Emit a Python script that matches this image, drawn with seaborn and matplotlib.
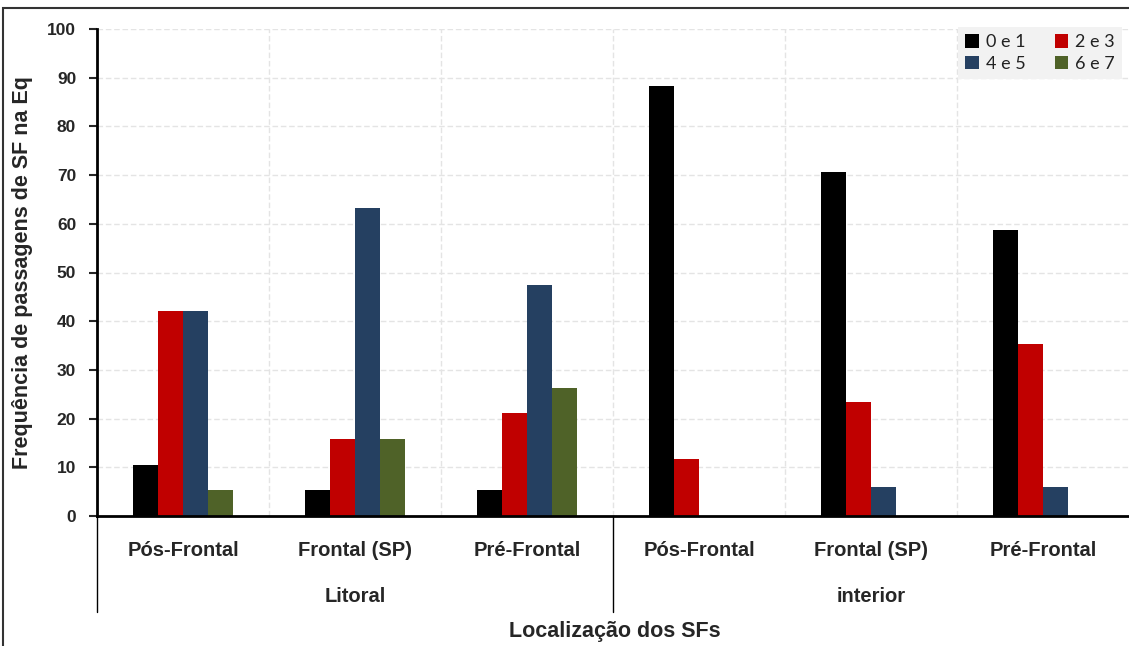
import matplotlib
matplotlib.use("Agg")
import matplotlib.pyplot as plt
import seaborn as sns
import pandas as pd
from matplotlib.patches import Rectangle

# ---- data ----
groups = ["Litoral", "interior"]
positions = ["Pós-Frontal", "Frontal (SP)", "Pré-Frontal"]
series = ["0 e 1", "2 e 3", "4 e 5", "6 e 7"]
litoral_vals = {
    "0 e 1": [10.5, 5.3, 5.3],
    "2 e 3": [42.1, 15.8, 21.1],
    "4 e 5": [42.1, 63.2, 47.4],
    "6 e 7": [5.3, 15.8, 26.3],
}
interior_vals = {
    "0 e 1": [88.2, 70.6, 58.8],
    "2 e 3": [11.8, 23.5, 35.3],
    "4 e 5": [0.0, 5.9, 5.9],
    "6 e 7": [0.0, 0.0, 0.0],
}
colors = ["#000000", "#C00000", "#254061", "#4F6228"]

rows = []
for g, vals in zip(groups, [litoral_vals, interior_vals]):
    for i, p in enumerate(positions):
        for s in series:
            rows.append({"cat": f"{g}|{p}", "pos": p, "grupo": g, "serie": s, "valor": vals[s][i]})
df = pd.DataFrame(rows)
order = [f"{g}|{p}" for g in groups for p in positions]

sns.set_style("white")
plt.rcParams["font.family"] = ["Liberation Sans", "DejaVu Sans"]

fig = plt.figure(figsize=(11.29, 6.46), dpi=100)
ax = fig.add_axes([97/1129, 1-516/646, 1-97/1129, (516-29)/646])

sns.barplot(data=df, x="cat", y="valor", hue="serie", order=order, hue_order=series,
            palette=colors, width=0.58, ax=ax, saturation=1, linewidth=0, errorbar=None)

ax.set_ylim(0, 100)
ax.set_xlim(-0.5, 5.5)
ax.set_yticks(range(0, 101, 10))
ax.set_yticklabels([str(v) for v in range(0, 101, 10)], fontsize=12.5, fontweight="bold")
ax.tick_params(axis="y", direction="out", length=6, width=1.5, pad=9, left=True)

ax.set_xticks(range(6))
ax.set_xticklabels([p for g in groups for p in positions], fontsize=14.5, fontweight="bold")
ax.tick_params(axis="x", length=0, pad=18)
ax.set_xticks([k + 0.5 for k in range(5)], minor=True)
ax.tick_params(axis="x", which="minor", length=0)

ax.grid(axis="y", which="major", color="#e4e4e4", linestyle=(0, (4, 2)), linewidth=1)
ax.grid(axis="x", which="minor", color="#e4e4e4", linestyle=(0, (4, 2)), linewidth=1)
ax.grid(axis="x", which="major", visible=False)
ax.set_axisbelow(True)

for side in ["top", "right"]:
    ax.spines[side].set_visible(False)
ax.spines["left"].set_linewidth(2)
ax.spines["bottom"].set_linewidth(2)
ax.spines["left"].set_color("black")
ax.spines["bottom"].set_color("black")

# group separators and labels
for xb in [-0.5, 2.5]:
    ax.axvline(xb, ymin=-0.197, ymax=0, color="black", linewidth=1, clip_on=False)
trans = ax.get_xaxis_transform()
for gi, g in enumerate(groups):
    ax.text(gi*3 + 1, -(597-516)/487, g, transform=trans, ha="center", va="center",
            fontsize=14.5, fontweight="bold")

ax.set_xlabel("")
fig.text(615/1129, 1-631/646, "Localização dos SFs", ha="center", va="center",
         fontsize=15.5, fontweight="bold")
ax.set_ylabel("Frequência de passagens de SF na Eq", fontsize=15.5, fontweight="bold", labelpad=10)

# legend (row-wise order like the reference)
handles, labels = ax.get_legend_handles_labels()
if ax.legend_:
    ax.legend_.remove()
idx = [0, 2, 1, 3]
leg = fig.legend([handles[i] for i in idx], [labels[i] for i in idx], loc="upper left",
                 bbox_to_anchor=(958/1129, 1-27/646),
                 ncol=2, frameon=True, facecolor="#f2f2f2", edgecolor="none", framealpha=1,
                 fancybox=False, prop={"family": ["Lato", "DejaVu Sans"], "size": 13},
                 handlelength=0.75, handleheight=0.75, handletextpad=0.4,
                 columnspacing=1.6, borderpad=0.4, labelspacing=0.3, borderaxespad=0)
for t in leg.get_texts():
    t.set_color("#222222")

# figure border
fig.patches.append(Rectangle((3/1129, -0.05), 1.1, 1-8/646+0.05, transform=fig.transFigure,
                             fill=False, edgecolor="#333333", linewidth=1.5, zorder=10))

fig.savefig("out.png", dpi=100)
